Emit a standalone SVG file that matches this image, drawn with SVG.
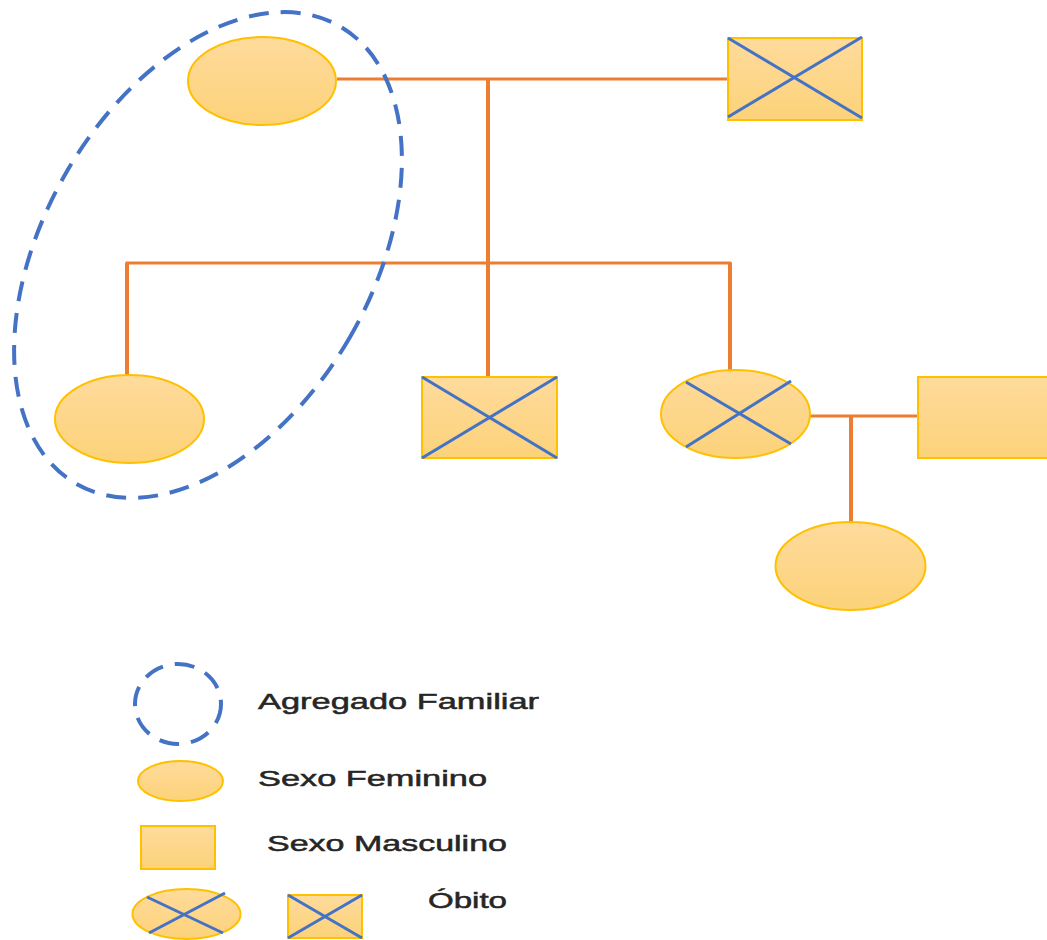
<svg xmlns="http://www.w3.org/2000/svg" width="1047" height="940" viewBox="0 0 1047 940">
  <defs>
    <linearGradient id="gold" x1="0" y1="0" x2="0" y2="1">
      <stop offset="0" stop-color="#FFDB9C"/>
      <stop offset="1" stop-color="#FCD279"/>
    </linearGradient>
  </defs>
  <style>
    .person { fill: url(#gold); stroke: #FFC000; stroke-width: 2; }
    .cross { stroke: #4472C4; stroke-width: 3; fill: none; }
    .link { stroke: #ED7D31; stroke-width: 3; fill: none; }
    .drop { stroke: #ED7D31; stroke-width: 4; fill: none; }
    .household { fill: none; stroke: #4472C4; stroke-width: 4; stroke-dasharray: 20 12; }
    .label { font-family: "Liberation Sans", Arial, sans-serif; font-size: 22px; fill: #262626; stroke: #262626; stroke-width: 0.5; }
  </style>
  <rect width="1047" height="940" fill="#FFFFFF"/>

  <!-- family relationship lines -->
  <g id="connectors">
    <line class="link" x1="337" y1="79" x2="728" y2="79"/>
    <line class="drop" x1="488" y1="79" x2="488" y2="377"/>
    <polyline class="link" points="127,375 127,263 730,263 730,370"/>
    <line class="drop" x1="127" y1="263" x2="127" y2="375"/>
    <line class="drop" x1="730" y1="263" x2="730" y2="370"/>
    <line class="link" x1="810" y1="416" x2="918" y2="416"/>
    <line class="drop" x1="851" y1="416" x2="851" y2="523"/>
  </g>

  <!-- household boundary -->
  <g id="household">
    <ellipse class="household" cx="208" cy="255" rx="164" ry="264" transform="rotate(30 208 255)"/>
  </g>

  <g id="grandmother">
    <ellipse class="person" cx="262" cy="81" rx="74" ry="44"/>
  </g>

  <g id="grandfather">
    <rect class="person" x="728" y="38" width="134" height="82"/>
    <line class="cross" x1="728" y1="38" x2="862" y2="118"/>
    <line class="cross" x1="728" y1="117" x2="862" y2="37"/>
  </g>

  <g id="daughter">
    <ellipse class="person" cx="129.5" cy="419" rx="74.5" ry="44"/>
  </g>

  <g id="son">
    <rect class="person" x="422" y="377" width="135" height="81"/>
    <line class="cross" x1="422" y1="377" x2="557" y2="458"/>
    <line class="cross" x1="422" y1="458" x2="557" y2="377"/>
  </g>

  <g id="daughter-deceased">
    <ellipse class="person" cx="735.5" cy="414" rx="74.5" ry="44"/>
    <line class="cross" x1="686" y1="382" x2="791" y2="444"/>
    <line class="cross" x1="686" y1="447" x2="791" y2="381"/>
  </g>

  <g id="son-in-law">
    <rect class="person" x="918" y="377" width="140" height="81"/>
  </g>

  <g id="granddaughter">
    <ellipse class="person" cx="850.5" cy="566" rx="75" ry="44"/>
  </g>

  <!-- key -->
  <g id="legend-household">
    <ellipse class="household" cx="178" cy="704" rx="43" ry="40" stroke-dasharray="18 12"/>
    <text class="label" x="258" y="709" textLength="281" lengthAdjust="spacingAndGlyphs">Agregado Familiar</text>
  </g>

  <g id="legend-female">
    <ellipse class="person" cx="180.5" cy="781" rx="42.5" ry="20"/>
    <text class="label" x="258" y="786" textLength="229" lengthAdjust="spacingAndGlyphs">Sexo Feminino</text>
  </g>

  <g id="legend-male">
    <rect class="person" x="141" y="826" width="74" height="43"/>
    <text class="label" x="267" y="851" textLength="240" lengthAdjust="spacingAndGlyphs">Sexo Masculino</text>
  </g>

  <g id="legend-death">
    <ellipse class="person" cx="186.5" cy="914" rx="54" ry="25"/>
    <line class="cross" x1="147" y1="897" x2="223" y2="933"/>
    <line class="cross" x1="149" y1="933" x2="225" y2="893"/>
    <rect class="person" x="288" y="895" width="74" height="43"/>
    <line class="cross" x1="288" y1="895" x2="362" y2="938"/>
    <line class="cross" x1="288" y1="938" x2="362" y2="895"/>
    <text class="label" x="428" y="908" textLength="79" lengthAdjust="spacingAndGlyphs">Óbito</text>
  </g>
</svg>
